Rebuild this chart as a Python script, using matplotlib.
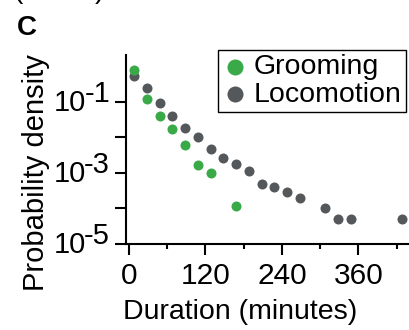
import matplotlib

matplotlib.use("Agg")
import matplotlib.pyplot as plt
from matplotlib.font_manager import FontProperties
from matplotlib.ticker import FixedLocator, MultipleLocator, NullFormatter

# bin centres (minutes) and probability density per behaviour
grooming_minutes = [8, 28, 48, 68, 88, 108, 128, 168]
grooming_density = [0.8, 0.12, 0.041, 0.017, 0.006, 0.0017, 0.001, 1.2e-4]

locomotion_minutes = [8, 28, 48, 68, 88, 108, 128, 148, 168, 188,
                      208, 228, 248, 268, 308, 328, 348, 428]
locomotion_density = [0.55, 0.25, 0.095, 0.04, 0.018, 0.01, 0.0048, 0.0026,
                      0.0018, 0.00115, 5e-4, 4e-4, 3e-4, 2e-4, 1e-4,
                      5e-5, 5e-5, 5e-5]

x_ticks = [0, 120, 240, 360]
y_decades = [-5, -4, -3, -2, -1]
y_labelled = [-5, -3, -1]

GREEN = "#3aaa48"
GREY = "#55585a"

plt.rcParams["font.family"] = ["Liberation Sans", "DejaVu Sans"]

# tick numbers in the reference are a narrower face
narrow = FontProperties(family=["Liberation Sans Narrow", "Liberation Sans"])

fig = plt.figure(figsize=(4.1, 3.3), dpi=100)
ax = fig.add_axes([0.3073, 0.2606, 0.6927, 0.5727])

# locomotion first so grooming sits on top where they overlap
loco = ax.scatter(locomotion_minutes, locomotion_density, s=52,
                  color=GREY, linewidths=0, label="Locomotion", zorder=3)
groom = ax.scatter(grooming_minutes, grooming_density, s=52,
                   color=GREEN, linewidths=0, label="Grooming", zorder=4)

ax.set_yscale("log")
ax.set_ylim(1e-5, 2.1)
ax.set_xlim(-4.7, 440.8)

ax.xaxis.set_major_locator(FixedLocator(x_ticks))
ax.xaxis.set_minor_locator(MultipleLocator(60))
ax.yaxis.set_major_locator(FixedLocator([10.0 ** d for d in y_decades]))
ax.yaxis.set_minor_locator(FixedLocator([]))
ax.yaxis.set_major_formatter(NullFormatter())
ax.yaxis.set_minor_formatter(NullFormatter())

for side in ["top", "right"]:
    ax.spines[side].set_visible(False)
for side in ["left", "bottom"]:
    ax.spines[side].set_linewidth(1.5)

ax.tick_params(which="major", direction="out", length=8, width=1.5, pad=5)
ax.tick_params(which="minor", direction="out", length=3.5, width=1.5)
for lbl in ax.get_xticklabels():
    lbl.set_fontproperties(narrow)
    lbl.set_fontsize(21.5)

# "10" with a full-size raised exponent, as in the reference
ytrans = ax.get_yaxis_transform()
for d in y_labelled:
    ax.annotate("10", xy=(0, 10.0 ** d), xycoords=ytrans,
                xytext=(-29, -1), textcoords="offset points",
                ha="right", va="center", fontproperties=narrow, fontsize=21)
    ax.annotate(f"{d}", xy=(0, 10.0 ** d), xycoords=ytrans,
                xytext=(-11.5, 0), textcoords="offset points",
                ha="right", va="baseline", fontproperties=narrow, fontsize=21)

ax.set_xlabel("Duration (minutes)", fontsize=20.5)
ax.xaxis.set_label_coords(0.403, -0.29)
ax.set_ylabel("Probability density", fontsize=21)
ax.yaxis.set_label_coords(-0.268, 0.376)

leg = ax.legend(handles=[groom, loco], loc="upper right",
                bbox_to_anchor=(0.990, 0.8485),
                bbox_transform=fig.transFigure, borderaxespad=0,
                fontsize=20.5, markerscale=1.6, handlelength=0.9,
                handletextpad=0.2, borderpad=0.15, labelspacing=0.05,
                fancybox=False, framealpha=1, edgecolor="black")
leg.get_frame().set_linewidth(1.0)

fig.text(0.0415, 0.894, "C", fontsize=20, fontweight="bold")
fig.text(0.032, 1.006, "(", fontsize=20)
fig.text(0.232, 1.006, ")", fontsize=20)

fig.savefig("out.png", dpi=100)
